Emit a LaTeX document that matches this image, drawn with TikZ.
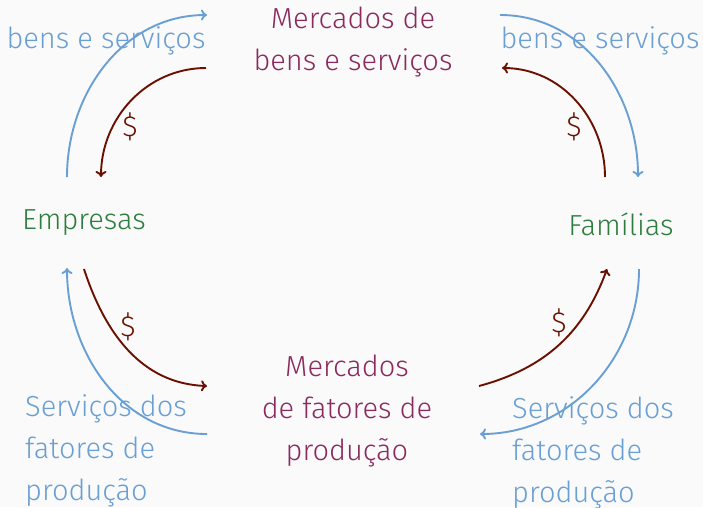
\documentclass[tikz,border=0pt]{standalone}
\usepackage{fontspec}
\setmainfont{Fira Sans}[UprightFont={* Light}]
\usetikzlibrary{arrows.meta}
\definecolor{bg}{HTML}{FAFAFA}
\definecolor{flowblue}{HTML}{6A9FD4}
\definecolor{mkt}{HTML}{8B2A5E}
\definecolor{agent}{HTML}{2E7D3E}
\definecolor{money}{HTML}{6B1000}
\tikzset{
  txt/.style={inner sep=0pt, font=\fontsize{29}{42}\selectfont},
  market/.style={txt, text=mkt, align=center},
  agentlbl/.style={txt, text=agent},
  flowlbl/.style={txt, text=flowblue},
  flowlblL/.style={txt, text=flowblue, align=left, anchor=west},
  dollar/.style={txt, text=money},
  bluearrow/.style={draw=flowblue, line width=1.9pt, -{To[length=6pt,width=11pt]}},
  redarrow/.style={draw=money, line width=1.9pt, -{To[length=6pt,width=11pt]}},
}
\begin{document}
\begin{tikzpicture}[x=1pt,y=-1pt]
\fill[bg] (0,0) rectangle (703,507);
\useasboundingbox (0,0) rectangle (703,507);
% nodes
\node[market] (mbs) at (353,42) {Mercados de\\bens e serviços};
\node[market] (mfp) at (347,411) {Mercados\\de fatores de\\produção};
\node[agentlbl] (emp) at (84,223) {Empresas};
\node[agentlbl] (fam) at (621,224) {Famílias};
\node[flowlbl] (bsL) at (106,41) {bens e serviços};
\node[flowlbl] (bsR) at (600,41) {bens e serviços};
\node[flowlblL] (sfL) at (25,451) {Serviços dos\\fatores de\\produção};
\node[flowlblL] (sfR) at (512,453) {Serviços dos\\fatores de\\produção};
\node[dollar] (d1) at (130,127) {\$};
\node[dollar] (d2) at (574,127) {\$};
\node[dollar] (d3) at (128,327) {\$};
\node[dollar] (d4) at (559,323) {\$};
% arrow end points
\coordinate (empTopB) at (67,177);
\coordinate (empTopR) at (101,177);
\coordinate (mbsLB) at (207,15);
\coordinate (mbsLR) at (206,68);
\coordinate (mbsRB) at (500,15);
\coordinate (mbsRR) at (502,68);
\coordinate (famTopB) at (638,177);
\coordinate (famTopR) at (605,177);
\coordinate (empBotB) at (67,268);
\coordinate (empBotR) at (84,269);
\coordinate (mfpLB) at (207,434);
\coordinate (mfpLR) at (207,386);
\coordinate (mfpRB) at (480,434);
\coordinate (mfpRR) at (479,386);
\coordinate (famBotB) at (639,269);
\coordinate (famBotR) at (607,269);
% arrows
\draw[bluearrow] (empTopB) to[out=90,in=180] (mbsLB);
\draw[redarrow] (mbsLR) to[out=180,in=90] (empTopR);
\draw[bluearrow] (mbsRB) to[out=0,in=90] (famTopB);
\draw[redarrow] (famTopR) to[out=90,in=0] (mbsRR);
\draw[bluearrow] (mfpLB) to[out=180,in=-90] (empBotB);
\draw[redarrow] (empBotR) to[out=-72,in=178] (mfpLR);
\draw[redarrow] (mfpRR) to[out=15,in=-110] (famBotR);
\draw[bluearrow] (famBotB) to[out=-90,in=0] (mfpRB);
\end{tikzpicture}
\end{document}
